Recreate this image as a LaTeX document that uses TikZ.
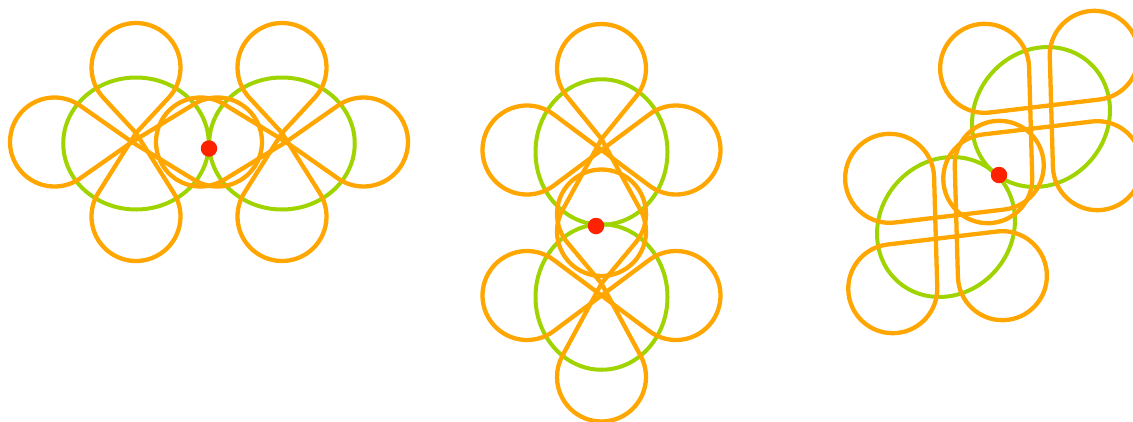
\documentclass[tikz,border=0pt]{standalone}
\definecolor{orng}{RGB}{255,166,0}
\definecolor{grn}{RGB}{160,212,0}
\definecolor{rdot}{RGB}{255,34,0}
\tikzset{
  greenring/.style={draw=grn, line width=4pt},
  orangecurve/.style={draw=orng, line width=4.3pt, line join=round},
  reddot/.style={circle, fill=rdot, draw=none, minimum size=16.5pt, inner sep=0pt},
}
\pgfmathsetmacro{\Du}{81.5}
\pgfmathsetmacro{\Dv}{74.5}
\pgfmathsetmacro{\R}{44.5}
\pgfmathsetmacro{\Ru}{72.75}
\pgfmathsetmacro{\Rv}{66}
% hash knot
\pgfmathsetmacro{\Lh}{sqrt(\Du*\Du+\Dv*\Dv)}
\pgfmathsetmacro{\bh}{atan2(\Du,\Dv)}
\pgfmathsetmacro{\hx}{\R*\Dv/\Lh}
\pgfmathsetmacro{\hy}{\R*\Du/\Lh}
\newcommand{\greenring}{\draw[greenring] (0,0) ellipse[x radius=\Ru, y radius=\Rv];}
% figure eight along local y, crossing at (0,#1)
\newcommand{\eightv}[1]{%
  \pgfmathsetmacro{\ap}{asin(\R/(\Dv-(#1)))}
  \pgfmathsetmacro{\am}{asin(\R/(\Dv+(#1)))}
  \draw[orangecurve] ({\R*cos(\ap)},{\Dv-\R*sin(\ap)})
     arc[start angle=-\ap, end angle=180+\ap, radius=\R]
     -- (0,#1) -- ({\R*cos(\am)},{-\Dv+\R*sin(\am)})
     arc[start angle=\am, end angle=-180-\am, radius=\R]
     -- (0,#1) -- cycle;
}
% figure eight along local x, crossing at (#1,0)
\newcommand{\eightu}[1]{%
  \pgfmathsetmacro{\ap}{asin(\R/(\Du-(#1)))}
  \pgfmathsetmacro{\am}{asin(\R/(\Du+(#1)))}
  \draw[orangecurve] ({\Du-\R*sin(\ap)},{\R*cos(\ap)})
     arc[start angle=90+\ap, end angle=-90-\ap, radius=\R]
     -- (#1,0) -- ({-\Du+\R*sin(\am)},{\R*cos(\am)})
     arc[start angle=90-\am, end angle=270+\am, radius=\R]
     -- (#1,0) -- cycle;
}
\newcommand{\hashknot}{%
  \draw[orangecurve] (\Du-\hx,-\hy) -- (-\hx,\Dv-\hy)
     arc[start angle=180+\bh, end angle=-\bh, radius=\R]
     -- (-\Du+\hx,-\hy) arc[start angle=-\bh, end angle=\bh-360, radius=\R]
     -- (\hx,-\Dv+\hy) arc[start angle=\bh, end angle=-180-\bh, radius=\R]
     -- (\Du-\hx,\hy) arc[start angle=180-\bh, end angle=-180+\bh, radius=\R]
     -- cycle;
}
\begin{document}
\begin{tikzpicture}[x=1pt,y=-1pt]
\useasboundingbox (0,0) rectangle (1133,421);
% green rings
\begin{scope}[shift={(136,143.5)}]\greenring\end{scope}
\begin{scope}[shift={(282,143.5)}]\greenring\end{scope}
\begin{scope}[shift={(601.5,152)}, rotate=90]\greenring\end{scope}
\begin{scope}[shift={(601.5,297)}, rotate=90]\greenring\end{scope}
\begin{scope}[shift={(1041,117)}, rotate=49.2]\greenring\end{scope}
\begin{scope}[shift={(946,227)}, rotate=49.2]\greenring\end{scope}
% orange curves
\begin{scope}[shift={(136,142)}]\eightv{-9}\eightu{-4}\end{scope}
\begin{scope}[shift={(282,142)}]\eightv{-9}\eightu{4}\end{scope}
\begin{scope}[shift={(601.5,150)}, rotate=90]\eightu{11}\eightv{0}\end{scope}
\begin{scope}[shift={(601.5,295.5)}, rotate=90]\eightu{12}\eightv{0}\end{scope}
\begin{scope}[shift={(1041,117)}, rotate=49.2]\hashknot\end{scope}
\begin{scope}[shift={(946,227)}, rotate=49.2]\hashknot\end{scope}
% red dots
\node[reddot] (d1) at (209,148.5) {};
\node[reddot] (d2) at (596,226) {};
\node[reddot] (d3) at (999,175) {};
\end{tikzpicture}
\end{document}
